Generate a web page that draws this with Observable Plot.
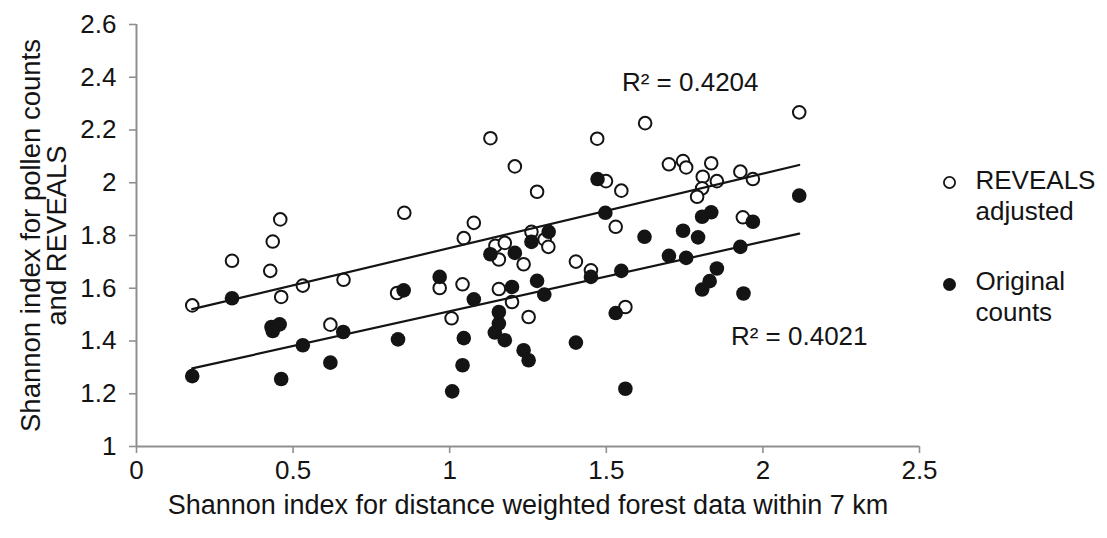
<!DOCTYPE html>
<html>
<head>
<meta charset="utf-8">
<script src="https://cdn.jsdelivr.net/npm/d3@7"></script>
<script src="https://cdn.jsdelivr.net/npm/@observablehq/plot@0.6"></script>
<style>
  html, body { margin: 0; padding: 0; background: #fff; }
  #chart { width: 1107px; height: 538px; }
</style>
</head>
<body>
<div id="chart"></div>
<script>
// ---- data ----
const revealsX = [0.178,0.305,0.459,0.435,0.427,0.462,0.531,0.661,0.855,0.832,0.619,
  1.130,1.471,1.624,1.208,1.279,1.499,1.548,1.700,1.077,1.045,1.146,1.176,1.157,1.236,
  1.261,1.303,1.315,1.530,1.403,1.451,0.968,1.041,1.157,1.199,1.006,1.252,1.561,
  2.116,1.745,1.755,1.835,1.808,1.853,1.928,1.968,1.806,1.790,1.936];
const revealsY = [1.535,1.704,1.861,1.777,1.666,1.567,1.610,1.632,1.886,1.582,1.462,
  2.169,2.167,2.226,2.062,1.966,2.006,1.970,2.070,1.848,1.790,1.761,1.772,1.709,1.691,
  1.814,1.785,1.757,1.833,1.701,1.668,1.601,1.615,1.597,1.548,1.486,1.491,1.529,
  2.267,2.082,2.058,2.074,2.023,2.006,2.042,2.014,1.979,1.947,1.869];

const originalX = [0.178,0.305,0.431,0.457,0.435,0.462,0.531,0.619,0.660,0.853,0.835,
  0.968,1.008,1.041,1.045,1.077,1.130,1.144,1.157,1.157,1.176,1.199,1.208,1.236,1.252,
  1.261,1.279,1.302,1.316,1.403,1.451,1.472,1.497,1.530,1.548,1.561,1.622,1.700,1.745,
  1.755,1.793,1.806,1.806,1.830,1.835,1.853,1.928,1.938,1.968,2.116];
const originalY = [1.267,1.562,1.453,1.463,1.438,1.256,1.384,1.318,1.434,1.592,1.406,
  1.643,1.209,1.308,1.411,1.558,1.729,1.432,1.510,1.466,1.403,1.605,1.734,1.365,1.327,
  1.776,1.628,1.576,1.814,1.394,1.643,2.014,1.886,1.506,1.666,1.219,1.795,1.723,1.818,
  1.715,1.793,1.871,1.595,1.627,1.888,1.675,1.757,1.580,1.852,1.951];

const xTicks = [0, 0.5, 1, 1.5, 2, 2.5];
const xTickLabels = ["0", "0.5", "1", "1.5", "2", "2.5"];
const yTicks = [1, 1.2, 1.4, 1.6, 1.8, 2, 2.2, 2.4, 2.6];
const yTickLabels = ["1", "1.2", "1.4", "1.6", "1.8", "2", "2.2", "2.4", "2.6"];

const xTitle = "Shannon index for distance weighted forest data within 7 km";
const yTitle = "Shannon index for pollen counts\nand REVEALS";
const legendLabels = ["REVEALS\nadjusted", "Original\ncounts"];
const r2Labels = ["R\u00B2 = 0.4204", "R\u00B2 = 0.4021"];

// ---- tables ----
const reveals = revealsX.map((x, i) => ({x, y: revealsY[i]}));
const original = originalX.map((x, i) => ({x, y: originalY[i]}));

const ink = "#141414";
const axisGrey = "#8f8f8f";

const chart = Plot.plot({
  width: 1107,
  height: 538,
  marginLeft: 136,
  marginRight: 188,
  marginTop: 24,
  marginBottom: 92,
  style: {
    fontFamily: "'Liberation Sans', Arial, sans-serif",
    fontSize: "26px",
    color: ink,
    background: "#fff",
    overflow: "visible"
  },
  x: {domain: [0, 2.5]},
  y: {domain: [1, 2.6]},
  marks: [
    Plot.axisX({
      ticks: xTicks,
      tickFormat: d => xTickLabels[xTicks.indexOf(d)],
      tickSize: 7, tickPadding: 7,
      stroke: axisGrey, strokeWidth: 1.6, fill: ink,
      label: null
    }),
    Plot.axisY({
      ticks: yTicks,
      tickFormat: d => yTickLabels[yTicks.indexOf(d)],
      tickSize: 7, tickPadding: 13,
      stroke: axisGrey, strokeWidth: 1.6, fill: ink,
      label: null
    }),
    Plot.ruleX([0], {stroke: axisGrey, strokeWidth: 2}),
    Plot.ruleY([1], {stroke: axisGrey, strokeWidth: 2}),

    Plot.dot(reveals, {x: "x", y: "y", r: 6.3, stroke: ink, strokeWidth: 2, fill: "#fff"}),
    Plot.dot(original, {x: "x", y: "y", r: 7.3, fill: ink, stroke: "none"}),

    Plot.linearRegressionY(reveals, {x: "x", y: "y", ci: 0, stroke: ink, strokeWidth: 2.2}),
    Plot.linearRegressionY(original, {x: "x", y: "y", ci: 0, stroke: ink, strokeWidth: 2.2}),

    Plot.text([r2Labels[0]], {x: 1.768, y: 2.379, text: d => d, fontSize: 26, fill: ink}),
    Plot.text([r2Labels[1]], {x: 2.116, y: 1.418, text: d => d, fontSize: 26, fill: ink}),

    // axis titles
    Plot.text([xTitle], {frameAnchor: "bottom", dy: 59, lineAnchor: "middle", text: d => d,
      fontSize: 27, fill: ink}),
    Plot.text([yTitle], {frameAnchor: "left", dx: -92, rotate: -90, text: d => d,
      textAnchor: "middle", lineAnchor: "middle", fontSize: 27.5, lineHeight: 0.95, fill: ink}),

    // legend
    Plot.dot([legendLabels[0]], {frameAnchor: "right", dx: 30, dy: -53, r: 5.6, stroke: ink, strokeWidth: 1.8, fill: "#fff"}),
    Plot.dot([legendLabels[1]], {frameAnchor: "right", dx: 30, dy: 49, r: 6.5, fill: ink}),
    Plot.text([legendLabels[0]], {frameAnchor: "right", dx: 56, dy: -41, text: d => d,
      textAnchor: "start", lineAnchor: "middle", lineHeight: 1.2, fontSize: 26, fill: ink}),
    Plot.text([legendLabels[1]], {frameAnchor: "right", dx: 56, dy: 60, text: d => d,
      textAnchor: "start", lineAnchor: "middle", lineHeight: 1.2, fontSize: 26, fill: ink})
  ]
});
document.getElementById("chart").appendChild(chart);
</script>
</body>
</html>
